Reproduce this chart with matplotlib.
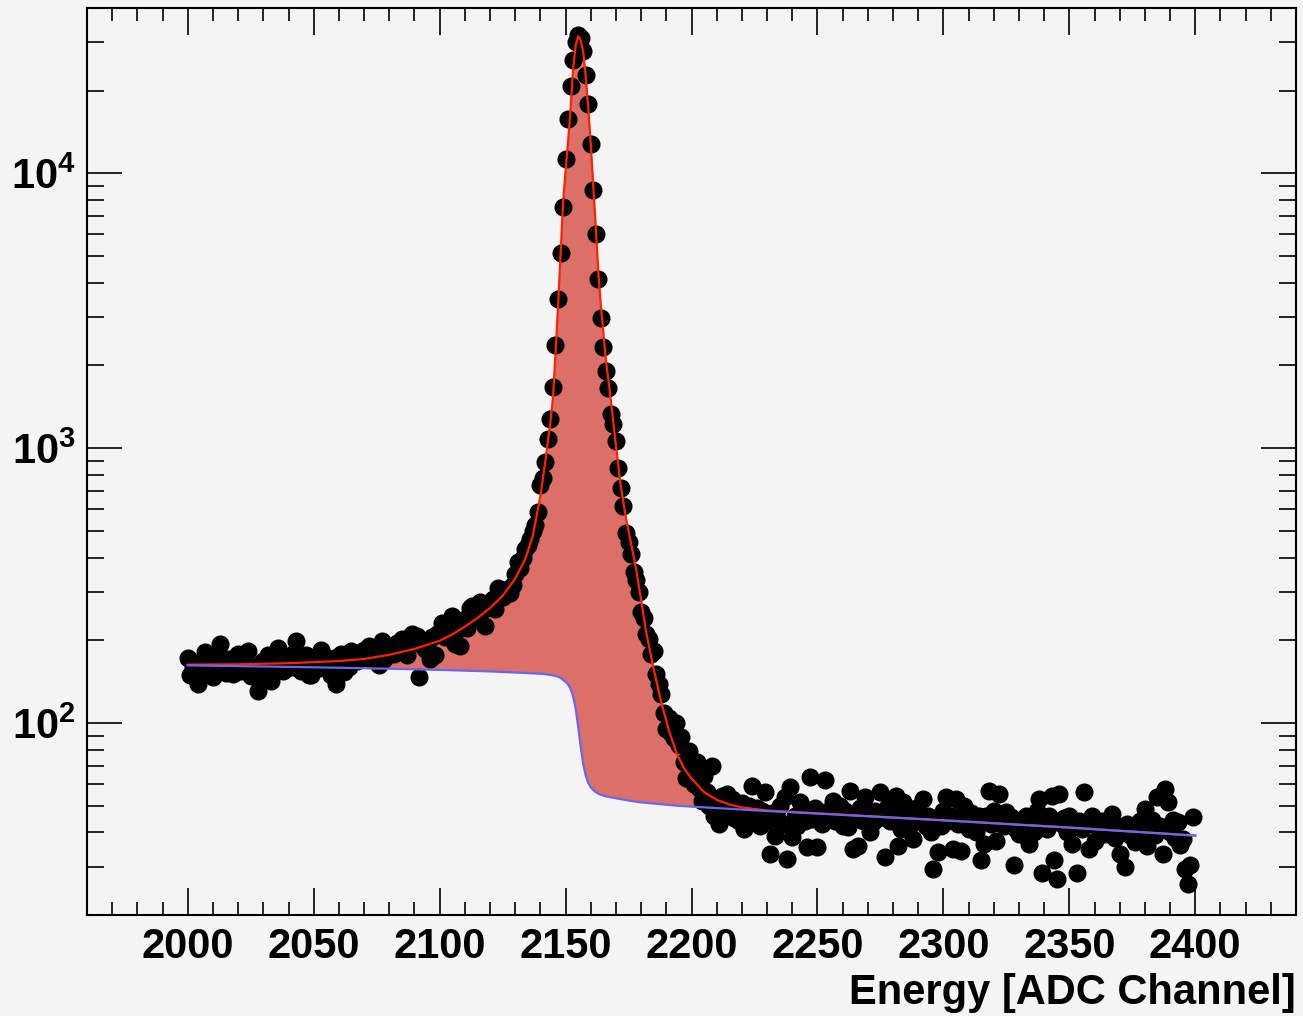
import numpy as np
import matplotlib
matplotlib.use('Agg')
import matplotlib.pyplot as plt
from matplotlib.ticker import FixedLocator, MultipleLocator, LogLocator, NullFormatter, FixedFormatter

# ---------------- data ----------------
channel_start = 2000
counts = [
    172, 149, 160, 155, 139, 165, 150, 181, 158, 170,
    147, 175, 163, 194, 158, 152, 171, 166, 151, 160,
    178, 155, 162, 168, 183, 148, 151, 160, 131, 145,
    168, 157, 176, 142, 170, 162, 188, 165, 154, 158,
    172, 160, 180, 199, 168, 155, 166, 176, 150, 149,
    170, 163, 158, 185, 175, 162, 168, 150, 172, 139,
    165, 178, 153, 170, 160, 183, 176, 168, 180, 172,
    185, 174, 191, 169, 182, 178, 162, 199, 171, 186,
    180, 190, 178, 195, 184, 202, 188, 176, 196, 211,
    198, 208, 147, 192, 186, 191, 171, 205, 176, 210,
    215, 232, 205, 225, 212, 245, 194, 218, 191, 230,
    238, 222, 263, 267, 248, 240, 275, 258, 226, 262,
    270, 282, 260, 311, 295, 288, 305, 307, 298, 318,
    348, 384, 365, 400, 429, 445, 467, 500, 525, 584,
    734, 782, 894, 1084, 1275, 1676, 2368, 3502, 5118, 7566,
    11240, 15810, 20770, 25970, 30020, 32030, 31000, 27840, 22910, 17820,
    12820, 8696, 6035, 4117, 2988, 2335, 1910, 1662, 1329, 1223,
    1063, 846, 714, 614, 490, 455, 411, 353, 330, 299,
    253, 240, 210, 202, 178, 183, 151, 139, 127, 109,
    95, 104, 92, 88, 100, 83, 89, 72, 63, 79,
    66, 60, 72, 58, 52, 64, 56, 50, 70, 46,
    48, 43, 54, 50, 55, 47, 53, 45, 49, 44,
    51, 41, 47, 50, 59, 46, 49, 42, 48, 56,
    44, 33.4, 47, 38.9, 45, 50, 43, 53.7, 32.1, 58.3,
    38.4, 46, 42, 51.5, 47, 44, 35.4, 63.5, 44.8, 49,
    35.4, 46, 43, 61.8, 48, 45, 52.2, 44, 47, 50,
    42, 48, 41.7, 56.7, 34.8, 46, 35.8, 49, 44, 53.7,
    46, 40, 43.5, 48, 45, 56, 47, 32.5, 50, 44,
    48, 54.4, 35.8, 41.2, 51.5, 45, 47, 43, 37.9, 49,
    44, 46, 52.9, 42, 46, 40, 29.5, 45, 33.9, 42.3,
    48, 53.7, 44, 46, 34.8, 52.9, 43, 34.3, 50, 45,
    41, 47, 44, 40, 46, 31.6, 36.4, 46, 56.7, 43,
    48, 37.3, 55.2, 45, 42, 47.3, 44, 45.4, 30.3, 41,
    39.5, 44, 42, 46, 36.4, 43, 40, 48, 52.9, 28.4,
    44, 41, 46, 54.4, 31.6, 27.1, 55.2, 43, 45, 40,
    46, 36.4, 42, 28.4, 44, 41, 56, 43, 34.8, 46,
    37.3, 42, 40, 44, 39.5, 41, 43, 46.6, 38, 42,
    33.4, 40, 29.8, 43, 39, 41, 36.9, 40, 44, 38,
    48.7, 35.8, 41, 44.2, 39, 53.7, 42, 33.4, 57.6, 51.5,
    40, 44.2, 38, 43.5, 36, 37.9, 29.5, 26.0, 30.3, 45.4,
]
channels = list(range(channel_start, channel_start + len(counts)))

# fit curve samples (total fit = red, background = blue)
curve_x = [2000, 2020, 2040, 2060, 2070, 2080, 2090, 2100, 2105, 2110, 2115, 2120,
           2125, 2130, 2134, 2137, 2140, 2142, 2144, 2145, 2146, 2147, 2148, 2149,
           2150, 2151, 2152, 2153, 2154, 2155, 2156, 2157, 2158, 2159, 2160, 2161,
           2162, 2163, 2164, 2166, 2168, 2170, 2172, 2174, 2176, 2178, 2180, 2182,
           2185, 2188, 2191, 2194, 2197, 2200, 2205, 2210, 2215, 2220, 2230, 2250,
           2300, 2350, 2400]
fit_total = [163, 163.5, 165, 168, 171, 177, 186, 199, 210, 224, 241, 262,
             290, 335, 395, 480, 670, 900, 1250, 1520, 2200, 3250, 5020, 7800,
             10200, 13000, 17200, 24000, 29200, 31600, 30500, 27800, 22500, 17300, 12800, 9000,
             6300, 4400, 3300, 2100, 1490, 1020, 720, 555, 450, 364, 280, 214,
             157, 119, 94, 78, 68.5, 62.8, 56, 52.5, 50.5, 49.3, 48.0, 46.9,
             44.25, 41.62, 38.92]
fit_bkg = [162, 161, 160, 158.8, 158.2, 157.5, 156.8, 156, 155.5, 155, 154.5, 154,
           153.3, 152.6, 152, 151.5, 151, 150.5, 149.5, 149, 148.3, 147.3, 145.8, 143.5,
           141, 138, 133, 125, 113, 97, 82, 71, 64.5, 60.5, 58.3, 57,
           56, 55.3, 54.8, 54.1, 53.6, 53.2, 52.8, 52.4, 52.0, 51.7, 51.4, 51.2,
           50.9, 50.6, 50.3, 50.0, 49.8, 49.6, 49.3, 49.0, 48.7, 48.4, 47.8, 46.8,
           44.2, 41.6, 38.9]

x_ticks = [2000, 2050, 2100, 2150, 2200, 2250, 2300, 2350, 2400]
x_tick_labels = ['2000', '2050', '2100', '2150', '2200', '2250', '2300', '2350', '2400']
y_ticks = [100, 1000, 10000]
y_tick_labels = [r'$10^{2}$', r'$10^{3}$', r'$10^{4}$']
x_label = 'Energy [ADC Channel]'

# ---------------- style ----------------
plt.rcParams['font.family'] = ['Liberation Sans', 'DejaVu Sans']
plt.rcParams['font.weight'] = 'bold'
plt.rcParams['mathtext.fontset'] = 'custom'
plt.rcParams['mathtext.rm'] = 'Liberation Sans:bold'
plt.rcParams['mathtext.bf'] = 'Liberation Sans:bold'
plt.rcParams['mathtext.it'] = 'Liberation Sans:bold:italic'

bg = '#f4f4f4'
W, H = 1303, 1016
fig = plt.figure(figsize=(W / 100, H / 100), dpi=100, facecolor=bg)
ax = fig.add_axes([87 / W, 1 - 915 / H, (1296 - 87) / W, (915 - 8) / H])
ax.set_facecolor(bg)

ax.fill_between(curve_x, fit_bkg, fit_total, color='#dc6f68', lw=0, zorder=1)
ax.plot(channels, counts, 'o', color='black', ms=12, mec='black', zorder=2)
ax.plot(curve_x, fit_total, color='#ff2200', lw=1.6, zorder=3)
ax.plot(curve_x, fit_bkg, color='#6868ee', lw=1.6, zorder=4)

ax.set_yscale('log')
ax.set_xlim(1960, 2440)
ax.set_ylim(20, 40000)

ax.xaxis.set_major_locator(FixedLocator(x_ticks))
ax.xaxis.set_major_formatter(FixedFormatter(x_tick_labels))
ax.xaxis.set_minor_locator(MultipleLocator(10))
ax.yaxis.set_major_locator(FixedLocator(y_ticks))
ax.yaxis.set_major_formatter(FixedFormatter(y_tick_labels))
ax.yaxis.set_minor_locator(LogLocator(base=10, subs=np.arange(2, 10)))
ax.yaxis.set_minor_formatter(NullFormatter())

ax.tick_params(axis='x', which='major', direction='in', top=True, bottom=True,
               length=19.5, width=1.2, labelsize=30, pad=9)
ax.tick_params(axis='x', which='minor', direction='in', top=True, bottom=True,
               length=9.7, width=1.2)
ax.tick_params(axis='y', which='major', direction='in', left=True, right=True,
               length=25, width=1.2, labelsize=30, pad=8)
ax.tick_params(axis='y', which='minor', direction='in', left=True, right=True,
               length=12.5, width=1.2)
for s in ax.spines.values():
    s.set_linewidth(1.5)

ax.set_xlabel(x_label, loc='right', fontsize=30, fontweight='bold', labelpad=4)

fig.savefig('out.png', dpi=100, facecolor=bg)
